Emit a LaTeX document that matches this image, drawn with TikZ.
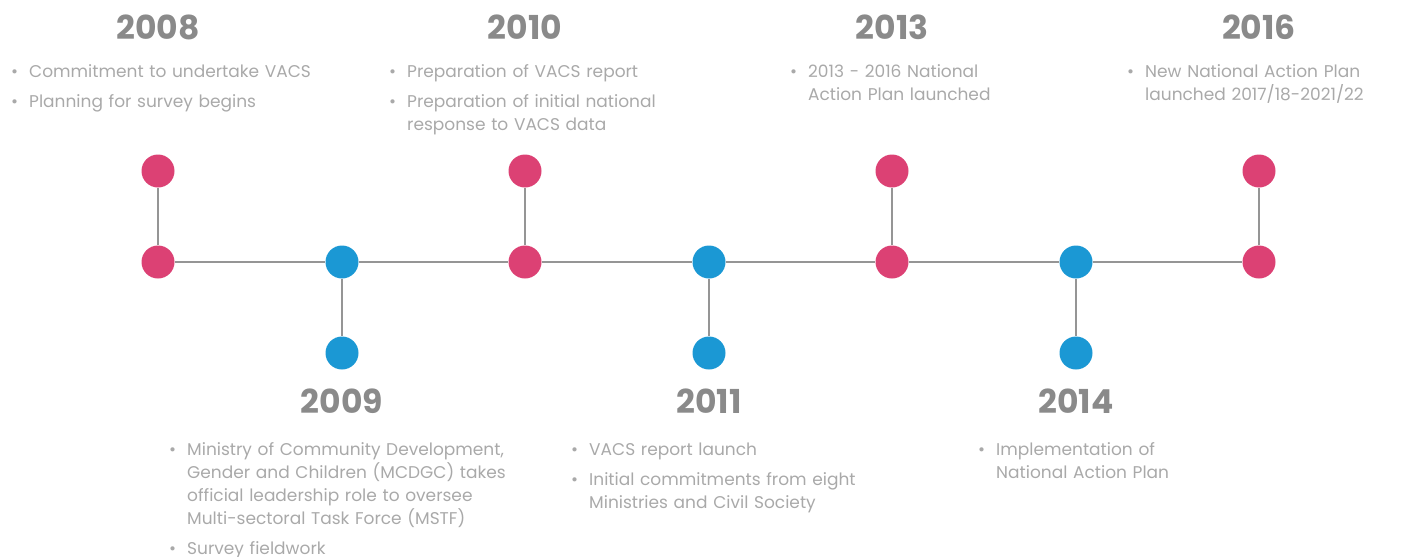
\documentclass[tikz,border=0pt]{standalone}
\usepackage{fontspec}
\setmainfont{Poppins}
\definecolor{dotpink}{HTML}{DC4174}
\definecolor{dotblue}{HTML}{1B98D4}
\definecolor{linegray}{HTML}{959595}
\definecolor{yeargray}{HTML}{8A8A8A}
\definecolor{notegray}{HTML}{A9A9A9}
\newenvironment{notelist}{\begin{list}{\makebox[0pt][r]{\textbullet\hspace{11pt}}}{\leftmargin=15pt\labelwidth=0pt\labelsep=0pt\itemsep=7pt\topsep=0pt\parsep=0pt\partopsep=0pt}\raggedright}{\end{list}}
\tikzset{
  dot/.style={circle, fill=#1, minimum size=33pt, inner sep=0pt},
  year/.style={font=\fontsize{33}{33}\selectfont\bfseries, text=yeargray, inner sep=0pt},
  notes/.style={anchor=north west, text width=#1, inner sep=0pt,
    font=\fontsize{17}{23}\selectfont, text=notegray}
}
\begin{document}
\begin{tikzpicture}[x=1pt,y=-1pt]
      \useasboundingbox (0,0) rectangle (1406,557);
      \draw
        (158,262) node[dot=dotpink] (d08){}
        (342,262) node[dot=dotblue] (d09){}
        (525,262) node[dot=dotpink] (d10){}
        (709,262) node[dot=dotblue] (d11){}
        (892,262) node[dot=dotpink] (d13){}
        (1076,262) node[dot=dotblue] (d14){}
        (1259,262) node[dot=dotpink] (d16){};
      \draw
        (158,171) node[dot=dotpink] (e08){}
        (342,353) node[dot=dotblue] (e09){}
        (525,171) node[dot=dotpink] (e10){}
        (709,353) node[dot=dotblue] (e11){}
        (892,171) node[dot=dotpink] (e13){}
        (1076,353) node[dot=dotblue] (e14){}
        (1259,171) node[dot=dotpink] (e16){};
      \begin{scope}[-, linegray, line width=2.6pt]
        \draw (d08) to (d09);
        \draw (d09) to (d10);
        \draw (d10) to (d11);
        \draw (d11) to (d13);
        \draw (d13) to (d14);
        \draw (d14) to (d16);
        \draw (d08) to (e08);
        \draw (d09) to (e09);
        \draw (d10) to (e10);
        \draw (d11) to (e11);
        \draw (d13) to (e13);
        \draw (d14) to (e14);
        \draw (d16) to (e16);
      \end{scope}
      \draw
        (158,27) node[year] (y08){2008}
        (342,401) node[year] (y09){2009}
        (525,27) node[year] (y10){2010}
        (709,401) node[year] (y11){2011}
        (892,27) node[year] (y13){2013}
        (1076,401) node[year] (y14){2014}
        (1259,27) node[year] (y16){2016};
      \draw
        (14,54) node[notes=330pt] (n08){\begin{notelist}
          \item Commitment to undertake VACS
          \item Planning for survey begins
        \end{notelist}}
        (392,54) node[notes=330pt] (n10){\begin{notelist}
          \item Preparation of VACS report
          \item Preparation of initial national\\ response to VACS data
        \end{notelist}}
        (793,54) node[notes=300pt] (n13){\begin{notelist}
          \item 2013 - 2016 National\\ Action Plan launched
        \end{notelist}}
        (1130,54) node[notes=270pt] (n16){\begin{notelist}
          \item New National Action Plan\\ launched 2017/18-2021/22
        \end{notelist}}
        (172,432) node[notes=380pt] (n09){\begin{notelist}
          \item Ministry of Community Development,\\ Gender and Children (MCDGC) takes\\ official leadership role to oversee\\ Multi-sectoral Task Force (MSTF)
          \item Survey fieldwork
        \end{notelist}}
        (574,432) node[notes=340pt] (n11){\begin{notelist}
          \item VACS report launch
          \item Initial commitments from eight\\ Ministries and Civil Society
        \end{notelist}}
        (981,432) node[notes=300pt] (n14){\begin{notelist}
          \item Implementation of\\ National Action Plan
        \end{notelist}};
    \end{tikzpicture}
\end{document}
